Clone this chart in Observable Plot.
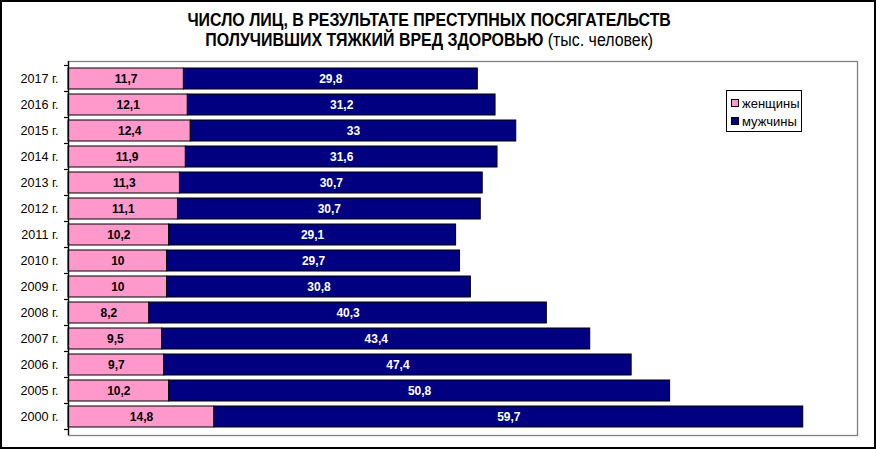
<!DOCTYPE html>
<html><head><meta charset="utf-8">
<script src="https://cdn.jsdelivr.net/npm/d3@7"></script>
<script src="https://cdn.jsdelivr.net/npm/@observablehq/plot@0.6"></script>
<style>
html,body{margin:0;padding:0;background:#fff;}
#wrap{position:relative;width:876px;height:449px;overflow:hidden;font-family:"Liberation Sans",Arial,sans-serif;color:#000;}
#border{position:absolute;left:0;top:0;width:876px;height:449px;box-sizing:border-box;border:2px solid #000;pointer-events:none;}
#title{height:52px;box-sizing:border-box;padding-top:9.5px;padding-right:20px;text-align:center;font-family:"Liberation Sans Narrow","Arial Narrow","Liberation Sans",sans-serif;font-weight:bold;font-size:18px;line-height:20px;transform:scaleX(0.885);transform-origin:50% 50%;white-space:nowrap;}
#title .sub{font-weight:normal;}
#chart svg{display:block;}
#legend{position:absolute;left:726px;top:90px;width:76px;height:42px;border:1px solid #000;box-sizing:border-box;background:#fff;font-size:13px;padding-top:3px;}
#legend .row{display:flex;align-items:center;height:18px;padding-left:4px;}
#legend .sw{width:6px;height:6px;border:1px solid #000;margin-right:3px;}
</style>
</head><body>
<div id="wrap">
  <div id="title">ЧИСЛО ЛИЦ, В РЕЗУЛЬТАТЕ ПРЕСТУПНЫХ ПОСЯГАТЕЛЬСТВ<br>ПОЛУЧИВШИХ ТЯЖКИЙ ВРЕД ЗДОРОВЬЮ <span class="sub">(тыс. человек)</span></div>
  <div id="chart"></div>
  <div id="legend"></div>
  <div id="border"></div>
</div>
<script>
const years = ["2017 г.","2016 г.","2015 г.","2014 г.","2013 г.","2012 г.","2011 г.","2010 г.","2009 г.","2008 г.","2007 г.","2006 г.","2005 г.","2000 г."];
const women = [11.7,12.1,12.4,11.9,11.3,11.1,10.2,10,10,8.2,9.5,9.7,10.2,14.8];
const men = [29.8,31.2,33,31.6,30.7,30.7,29.1,29.7,30.8,40.3,43.4,47.4,50.8,59.7];
const seriesNames = ["женщины","мужчины"];
const seriesColors = ["#FF99CC","#000080"];
const labelColors = ["#000","#fff"];

const fmt = v => String(v).replace(".", ",");
const segs = [];
years.forEach((y, i) => {
  segs.push({year: y, s: 0, x1: 0, x2: women[i], v: women[i]});
  segs.push({year: y, s: 1, x1: women[i], x2: women[i] + men[i], v: men[i]});
});

const chart = Plot.plot({
  width: 876,
  height: 397,
  marginTop: 9,
  marginBottom: 14,
  marginLeft: 68,
  marginRight: 19,
  style: {fontFamily: "'Liberation Sans', Arial, sans-serif", fontSize: "12px", color: "#000", background: "transparent", overflow: "visible"},
  x: {domain: [0, 80], axis: null},
  y: {domain: years, paddingInner: 0.18, paddingOuter: 0.09, label: null},
  marks: [
    Plot.frame({stroke: "#808080", strokeWidth: 1.3}),
    Plot.barX(segs, {y: "year", x1: "x1", x2: "x2", fill: d => seriesColors[d.s], stroke: "#000", strokeWidth: 1}),
    Plot.text(segs, {y: "year", x: d => (d.x1 + d.x2) / 2, text: d => fmt(d.v), fill: d => labelColors[d.s], fontWeight: "bold", fontSize: 12}),
    Plot.ruleX([0], {stroke: "#000", strokeWidth: 1.3}),
    Plot.axisY({tickSize: 0, tickPadding: 10, fontSize: 12.6, label: null})
  ]
});
document.getElementById("chart").appendChild(chart);

// boundary ticks on the category axis, from Plot's own scales
const ys = chart.scale("y"), xs = chart.scale("x");
const gap = (ys.step - ys.bandwidth) / 2;
const bounds = years.map(y => ys.apply(y) - gap);
bounds.push(ys.apply(years[years.length - 1]) + ys.bandwidth + gap);
const x0 = xs.apply(0);
d3.select(chart).append("g")
  .selectAll("line").data(bounds).join("line")
  .attr("x1", x0 - 4).attr("x2", x0)
  .attr("y1", d => d).attr("y2", d => d)
  .attr("stroke", "#000").attr("stroke-width", 1.2);

// legend
const lg = d3.select("#legend");
seriesNames.forEach((n, i) => {
  const r = lg.append("div").attr("class", "row");
  r.append("div").attr("class", "sw").style("background", seriesColors[i]);
  r.append("span").text(n);
});
</script>
</body></html>
